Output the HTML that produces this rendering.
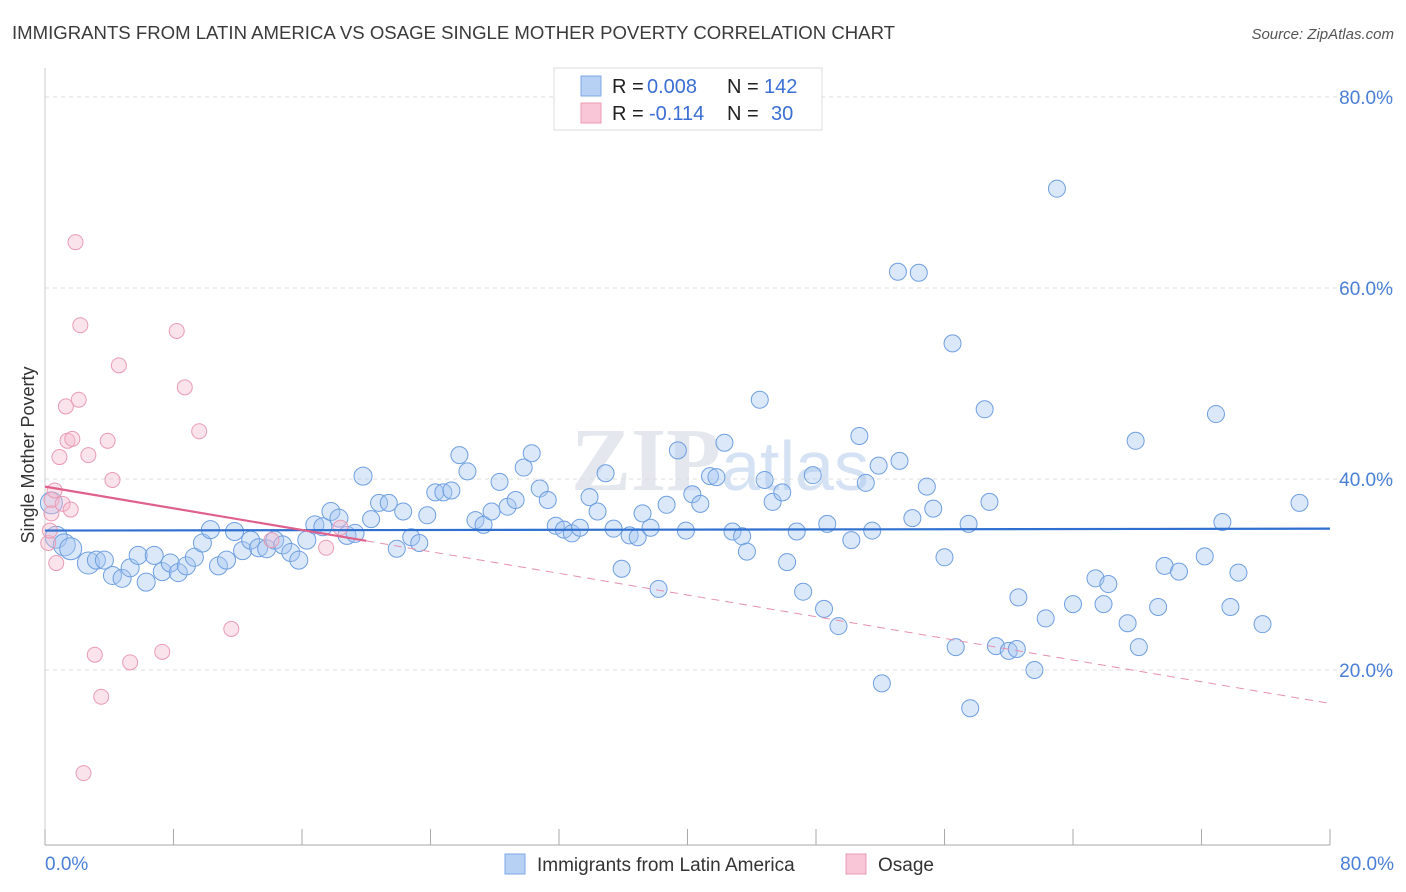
<!DOCTYPE html>
<html><head><meta charset="utf-8"><style>
body{margin:0;background:#fff;font-family:"Liberation Sans",sans-serif;}
svg{display:block}
</style></head><body>
<svg id="chart" width="1406" height="892">
<text x="12" y="39" font-size="18" fill="#3a3a3a" textLength="883" lengthAdjust="spacingAndGlyphs">IMMIGRANTS FROM LATIN AMERICA VS OSAGE SINGLE MOTHER POVERTY CORRELATION CHART</text>
<text x="1394" y="39" font-size="15" fill="#555" text-anchor="end" font-style="italic">Source: ZipAtlas.com</text>
<text x="720" y="490" font-size="90" fill="#e4e8ee" text-anchor="middle" font-family="Liberation Serif,serif" font-weight="bold">ZIP<tspan fill="#d4e2f4" font-family="Liberation Sans,sans-serif" font-weight="normal" font-size="70">atlas</tspan></text>
<g id="grid"></g><g id="axes"></g><g id="pts"></g><g id="trend"></g>
<text transform="translate(34,455) rotate(-90)" font-size="18" fill="#333" text-anchor="middle">Single Mother Poverty</text>
<g>
<rect x="554" y="68" width="268" height="62" fill="#fff" stroke="#ddd"/>
<rect x="581" y="76" width="20" height="20" fill="#b7d1f4" stroke="#7ea8e6"/>
<rect x="581" y="103" width="20" height="20" fill="#f8c6d6" stroke="#ec9ab4"/>
<text x="612" y="93" font-size="20" fill="#222">R =</text>
<text x="647" y="93" font-size="20" fill="#3b6fd4">0.008</text>
<text x="727" y="93" font-size="20" fill="#222">N =</text>
<text x="764" y="93" font-size="20" fill="#3b6fd4">142</text>
<text x="612" y="120" font-size="20" fill="#222">R =</text>
<text x="649" y="120" font-size="20" fill="#3b6fd4">-0.114</text>
<text x="727" y="120" font-size="20" fill="#222">N =</text>
<text x="771" y="120" font-size="20" fill="#3b6fd4">30</text>
</g>
<g>
<rect x="505" y="854" width="20" height="20" fill="#b7d1f4" stroke="#7ea8e6"/>
<text x="537" y="871" font-size="19" fill="#333">Immigrants from Latin America</text>
<rect x="846" y="854" width="20" height="20" fill="#f8c6d6" stroke="#ec9ab4"/>
<text x="878" y="871" font-size="19" fill="#333">Osage</text>
</g>
</svg>
<script>
const yTicks=[20,40,60,80];
const blueX=[0.4,0.7,1.2,1.6,2.7,3.2,3.7,4.2,4.8,5.3,5.8,6.3,6.8,7.3,7.8,8.3,8.8,9.3,9.8,10.3,10.8,11.3,11.8,12.3,12.8,13.3,13.8,14.3,14.8,15.3,15.8,16.3,16.8,17.3,17.8,18.3,18.8,19.3,19.8,20.3,20.8,21.4,21.9,22.3,22.8,23.3,23.8,24.3,24.8,25.3,25.8,26.3,26.8,27.3,27.8,28.3,28.8,29.3,29.8,30.3,30.8,31.3,31.8,32.3,32.8,33.3,33.9,34.4,34.9,35.4,35.9,36.4,36.9,37.2,37.7,38.2,38.7,39.4,39.9,40.3,40.8,41.4,41.8,42.3,42.8,43.4,43.7,44.5,44.8,45.3,45.9,46.2,46.8,47.2,47.8,48.5,48.7,49.4,50.2,50.7,51.1,51.5,51.9,52.1,53.1,53.2,54.0,54.4,54.9,55.3,56.0,56.5,56.7,57.5,57.6,58.5,58.8,59.2,60.0,60.5,60.6,61.6,62.3,63.0,64.0,65.4,65.9,66.2,67.4,67.9,68.1,69.3,69.7,70.6,72.2,72.9,73.3,73.8,74.3,75.8,78.1];
const blueY=[37.5,33.9,33.1,32.7,31.2,31.5,31.5,29.9,29.6,30.7,32.0,29.2,32.0,30.3,31.2,30.2,30.9,31.8,33.3,34.7,30.9,31.5,34.5,32.5,33.6,32.8,32.7,33.6,33.1,32.3,31.5,33.6,35.2,35.0,36.6,35.9,34.1,34.3,40.3,35.8,37.5,37.5,32.7,36.6,33.9,33.3,36.2,38.6,38.6,38.8,42.5,40.8,35.7,35.2,36.6,39.7,37.1,37.8,41.2,42.7,39.0,37.8,35.1,34.7,34.3,34.9,38.1,36.6,40.6,34.8,30.6,34.1,33.9,36.4,34.9,28.5,37.3,43.0,34.6,38.4,37.4,40.3,40.2,43.8,34.5,34.0,32.4,48.3,39.9,37.6,38.6,31.3,34.5,28.2,40.4,26.4,35.3,24.6,33.6,44.5,39.6,34.6,41.4,18.6,61.7,41.9,35.9,61.6,39.2,36.9,31.8,54.2,22.4,35.3,16.0,47.3,37.6,22.5,22.0,22.2,27.6,20.0,25.4,70.4,26.9,29.6,26.9,29.0,24.9,44.0,22.4,26.6,30.9,30.3,31.9,46.8,35.5,26.6,30.2,24.8,37.5];
const pinkX=[0.4,0.2,0.3,0.4,0.6,0.7,0.9,1.1,1.3,1.4,1.6,1.7,1.9,2.1,2.2,2.4,2.7,3.1,3.5,3.9,4.2,4.6,5.3,7.3,8.2,8.7,9.6,11.6,14.1,17.5,18.4];
const pinkY=[37.8,33.3,34.6,36.4,38.8,31.2,42.3,37.4,47.6,44.0,36.8,44.2,64.8,48.3,56.1,9.2,42.5,21.6,17.2,44.0,39.9,51.9,20.8,21.9,55.5,49.6,45.0,24.3,33.6,32.8,34.9];
const blueTrend=[34.6,34.8];
const pinkTrend=[39.2,16.5];
const X0=45,X1=1330,Y0=861,YPER=9.55;
const sx=v=>X0+(X1-X0)*v/80, sy=v=>Y0-v*YPER;
const NS="http://www.w3.org/2000/svg";
function mk(tag,parent,attrs){const e=document.createElementNS(NS,tag);for(const k in attrs)e.setAttribute(k,attrs[k]);document.getElementById(parent).appendChild(e);return e;}
yTicks.forEach(t=>{
 const l=mk('line','grid',{x1:45,x2:1394,y1:sy(t),y2:sy(t),stroke:'#dcdcdc','stroke-dasharray':'4,4'});
 
 
 const tx=mk('text','grid',{x:1393,y:sy(t)+7,'font-size':19,fill:'#4a7fd6','text-anchor':'end'});tx.textContent=t.toFixed(1)+'%';
 
 
});
const ax=mk('line','axes',{x1:45,x2:1330,y1:845,y2:845,stroke:'#aaa'});


const ay=mk('line','axes',{x1:45,x2:45,y1:68,y2:845,stroke:'#ccc'});


for(let i=0;i<=10;i++){const x=sx(i*8);const t=mk('line','axes',{x1:x,x2:x,y1:829,y2:845,stroke:'#aaa'});
 
 }
[[0,'0.0%','start',45],[80,'80.0%','end',1394]].forEach(d=>{const t=mk('text','axes',{x:d[3],y:870,'font-size':19,fill:'#4a7fd6','text-anchor':d[2]});t.textContent=d[1];
 
 });
blueX.forEach((v,i)=>{const r=v<3?11:(v<20?9:8.5);const c=mk('circle','pts',{cx:sx(v),cy:sy(blueY[i]),r:r,fill:'rgba(165,198,242,0.4)',stroke:'#6f9fe0','stroke-width':1});
 
 });
pinkX.forEach((v,i)=>{const c=mk('circle','pts',{cx:sx(v),cy:sy(pinkY[i]),r:7.5,fill:'rgba(246,186,206,0.4)',stroke:'#e99bb5','stroke-width':1});
 
 });
const bt=mk('line','trend',{x1:sx(0),x2:sx(80),y1:sy(blueTrend[0]),y2:sy(blueTrend[1]),stroke:'#2f6fd0','stroke-width':2.2});


const pAt=v=>pinkTrend[0]+(pinkTrend[1]-pinkTrend[0])*v/80;
const pt=mk('line','trend',{x1:sx(0),x2:sx(20),y1:sy(pAt(0)),y2:sy(pAt(20)),stroke:'#e0608c','stroke-width':2.2});


const pd=mk('line','trend',{x1:sx(20),x2:sx(80),y1:sy(pAt(20)),y2:sy(pAt(80)),stroke:'#e690ad','stroke-width':1,'stroke-dasharray':'8,6'});


</script>
</body></html>
